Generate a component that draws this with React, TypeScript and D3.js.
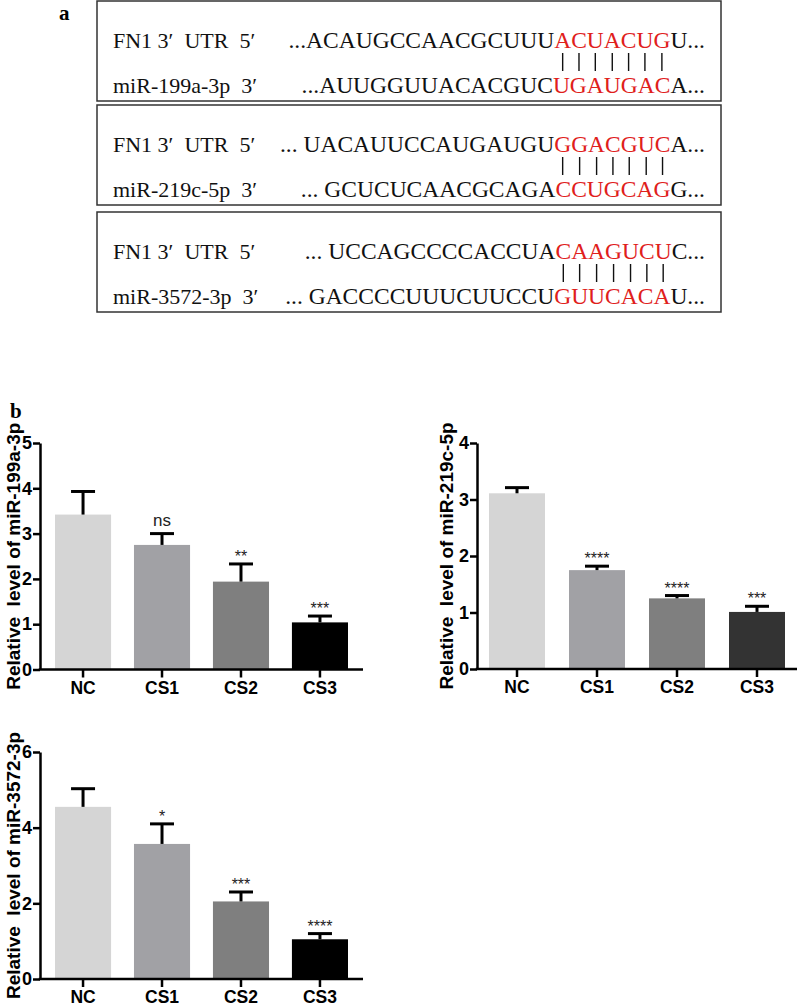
import { useEffect, useRef } from "react";
import * as d3 from "d3";

// panel a: binding sites, each row = [before, seed, after]
const siteTop = [
  ["...ACAUGCCAACGCUUU", "ACUACUG", "U..."],
  ["... UACAUUCCAUGAUGU", "GGACGUC", "A..."],
  ["... UCCAGCCCCACCUA", "CAAGUCU", "C..."],
];
const siteBottom = [
  ["...AUUGGUUACACGUC", "UGAUGAC", "A..."],
  ["... GCUCUCAACGCAGA", "CCUGCAG", "G..."],
  ["... GACCCCUUUCUUCCU", "GUUCACA", "U..."],
];
const mirNames = ["miR-199a-3p", "miR-219c-5p", "miR-3572-3p"];

// panel b
const groups = ["NC", "CS1", "CS2", "CS3"];
const mir199Mean = [3.42, 2.75, 1.94, 1.04];
const mir199Top = [3.93, 3.0, 2.33, 1.18];
const mir199Sig = ["", "ns", "**", "***"];
const mir219Mean = [3.11, 1.75, 1.25, 1.01];
const mir219Top = [3.21, 1.82, 1.3, 1.11];
const mir219Sig = ["", "****", "****", "***"];
const mir3572Mean = [4.55, 3.57, 2.05, 1.05];
const mir3572Top = [5.03, 4.1, 2.3, 1.2];
const mir3572Sig = ["", "*", "***", "****"];

const barColors = ["#d5d5d5", "#a1a1a5", "#7f7f7f", "#000000"];
const barColors2 = ["#d5d5d5", "#a1a1a5", "#7f7f7f", "#333333"];

export default function App() {
  const ref = useRef<SVGSVGElement>(null);

  useEffect(() => {
    const svg = d3.select(ref.current);
    svg.selectAll("*").remove();

    const serif = "'Liberation Serif', 'Times New Roman', serif";
    const sans = "'Liberation Sans', Arial, sans-serif";

    // ---- panel a ----
    svg.append("text").attr("x", 59).attr("y", 20).attr("font-family", serif)
      .attr("font-weight", "bold").attr("font-size", 21).text("a");

    const boxTops = [1, 105, 212];
    boxTops.forEach((t, i) => {
      const g = svg.append("g");
      g.append("rect").attr("x", 97).attr("y", t).attr("width", 624).attr("height", 100)
        .attr("fill", "none").attr("stroke", "#333").attr("stroke-width", 1.5);

      const rows = [
        { label: "FN1 3′  UTR  5′", seq: siteTop[i], y: t + 47 },
        { label: `${mirNames[i]}  3′`, seq: siteBottom[i], y: t + 92 },
      ];
      const seedTexts: SVGTextElement[] = [];
      rows.forEach(r => {
        g.append("text").attr("x", 113).attr("y", r.y).attr("font-family", serif)
          .attr("font-size", 22).attr("fill", "#111").style("white-space", "pre").text(r.label);
        const txt = g.append("text").attr("x", 705).attr("y", r.y).attr("text-anchor", "end")
          .attr("font-family", serif).attr("font-size", 23.5).style("white-space", "pre");
        txt.append("tspan").attr("fill", "#111").text(r.seq[0]);
        txt.append("tspan").attr("fill", "#e0201b").text(r.seq[1]);
        txt.append("tspan").attr("fill", "#111").text(r.seq[2]);
        seedTexts.push(txt.node() as SVGTextElement);
      });

      // pairing lines under the seed letters of the top row
      const node = seedTexts[0];
      const start = siteTop[i][0].length;
      for (let k = 0; k < siteTop[i][1].length; k++) {
        const ext = node.getExtentOfChar(start + k);
        const cx = ext.x + ext.width / 2;
        g.append("line").attr("x1", cx).attr("x2", cx).attr("y1", t + 52).attr("y2", t + 70)
          .attr("stroke", "#111").attr("stroke-width", 1.4);
      }
    });

    svg.append("text").attr("x", 10).attr("y", 418).attr("font-family", serif)
      .attr("font-weight", "bold").attr("font-size", 21).text("b");

    // ---- panel b ----
    function barChart(opts: {
      x0: number; x1: number; yTop: number; yBase: number; max: number; step: number;
      means: number[]; tops: number[]; sig: string[]; colors: string[]; label: string;
      labelX: number; pIn: number; pOut: number;
    }) {
      const g = svg.append("g");
      const x = d3.scaleBand().domain(groups).range([opts.x0, opts.x1])
        .paddingInner(opts.pIn).paddingOuter(opts.pOut);
      const y = d3.scaleLinear().domain([0, opts.max]).range([opts.yBase, opts.yTop]);

      groups.forEach((grp, i) => {
        const bx = x(grp)!;
        g.append("rect").attr("x", bx).attr("y", y(opts.means[i]))
          .attr("width", x.bandwidth()).attr("height", y(0) - y(opts.means[i]))
          .attr("fill", opts.colors[i]);
        const cx = bx + x.bandwidth() / 2;
        g.append("line").attr("x1", cx).attr("x2", cx)
          .attr("y1", y(opts.means[i])).attr("y2", y(opts.tops[i]))
          .attr("stroke", "#000").attr("stroke-width", 3);
        g.append("line").attr("x1", cx - 12).attr("x2", cx + 12)
          .attr("y1", y(opts.tops[i])).attr("y2", y(opts.tops[i]))
          .attr("stroke", "#000").attr("stroke-width", 3);
        if (opts.sig[i]) {
          const isNs = opts.sig[i] === "ns";
          g.append("text").attr("x", cx).attr("y", y(opts.tops[i]) - (isNs ? 8 : 2))
            .attr("text-anchor", "middle").attr("font-family", sans)
            .attr("font-size", isNs ? 17 : 16).attr("fill", "#222").text(opts.sig[i]);
        }
      });

      const yAxis = g.append("g").attr("transform", `translate(${opts.x0},0)`)
        .call(d3.axisLeft(y).tickValues(d3.range(0, opts.max + 0.001, opts.step))
          .tickSize(7).tickSizeOuter(0).tickPadding(1).tickFormat(d3.format("d")));
      const xAxis = g.append("g").attr("transform", `translate(0,${opts.yBase})`)
        .call(d3.axisBottom(x).tickSize(8).tickSizeOuter(0).tickPadding(4));
      [yAxis, xAxis].forEach(a => {
        a.select(".domain").attr("stroke", "#000").attr("stroke-width", 2.5);
        a.selectAll(".tick line").attr("stroke", "#000").attr("stroke-width", 2.5);
        a.selectAll(".tick text").attr("font-family", sans).attr("font-weight", "bold")
          .attr("font-size", 18).attr("fill", "#000");
      });
      xAxis.selectAll(".tick text").attr("font-size", 17.5);
      // extend x domain to meet the y axis
      xAxis.select(".domain").attr("d", `M${opts.x0 - 1.25},0H${opts.x1}`);

      g.append("text")
        .attr("transform", `translate(${opts.labelX},${(opts.yTop + opts.yBase) / 2}) rotate(-90)`)
        .attr("text-anchor", "middle").attr("font-family", sans).attr("font-weight", "bold")
        .attr("font-size", 19).style("white-space", "pre").attr("fill", "#000").text(opts.label);
    }

    barChart({
      x0: 40, x1: 363, yTop: 443, yBase: 669.5, max: 5, step: 1,
      means: mir199Mean, tops: mir199Top, sig: mir199Sig, colors: barColors,
      label: "Relative  level of miR-199a-3p", labelX: 20, pIn: 0.29, pOut: 0.19,
    });
    barChart({
      x0: 477, x1: 797, yTop: 443, yBase: 669, max: 4, step: 1,
      means: mir219Mean, tops: mir219Top, sig: mir219Sig, colors: barColors2,
      label: "Relative  level of miR-219c-5p", labelX: 453, pIn: 0.3, pOut: 0.15,
    });
    barChart({
      x0: 40, x1: 363, yTop: 752, yBase: 979, max: 6, step: 2,
      means: mir3572Mean, tops: mir3572Top, sig: mir3572Sig, colors: barColors,
      label: "Relative  level of miR-3572-3p", labelX: 20, pIn: 0.29, pOut: 0.19,
    });
  }, []);

  return (
    <svg ref={ref} width={797} height={1007}
      style={{ position: "absolute", left: 0, top: 0, background: "#fff" }} />
  );
}
